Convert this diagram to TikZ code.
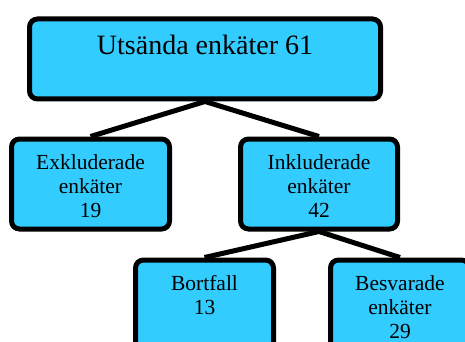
\documentclass[tikz,border=0pt]{standalone}
\usepackage{fontspec}
\setmainfont{Liberation Serif}
\definecolor{boxcyan}{RGB}{51,204,255}

\begin{document}
\begin{tikzpicture}[x=1pt,y=-1pt,
 box/.style={draw=black,line width=5pt,fill=boxcyan,rounded corners=8pt,
 inner sep=0pt,align=center,anchor=north,text height=78pt,text depth=12pt,
 font=\fontsize{21.5}{24}\selectfont},
 stem/.style={line width=5pt,black}]
 \useasboundingbox (0,0) rectangle (465,342);
 \clip (0,0) rectangle (465,342);
 % levels of the tree
 \node[box,minimum width=351pt,text height=35.5pt,text depth=44.5pt,
   font=\fontsize{28}{32}\selectfont] (sent) at (205,16.5) {Utsända enkäter 61};
 \node[box,minimum width=158pt] (excl) at (90.5,136.5) {Exkluderade\\enkäter\\19};
 \node[box,minimum width=157pt] (incl) at (319,136.5) {Inkluderade\\enkäter\\42};
 \node[box,minimum width=138pt,text height=54pt,text depth=36pt] (drop)
   at (204.5,257.5) {Bortfall\\13};
 \node[box,minimum width=139pt] (answ) at (400,257.5) {Besvarade\\enkäter\\29};
 \foreach \x/\y in {sent/excl,sent/incl,incl/drop,incl/answ}
   \draw[stem] (\x.south) -- (\y.north);
\end{tikzpicture}
\end{document}
